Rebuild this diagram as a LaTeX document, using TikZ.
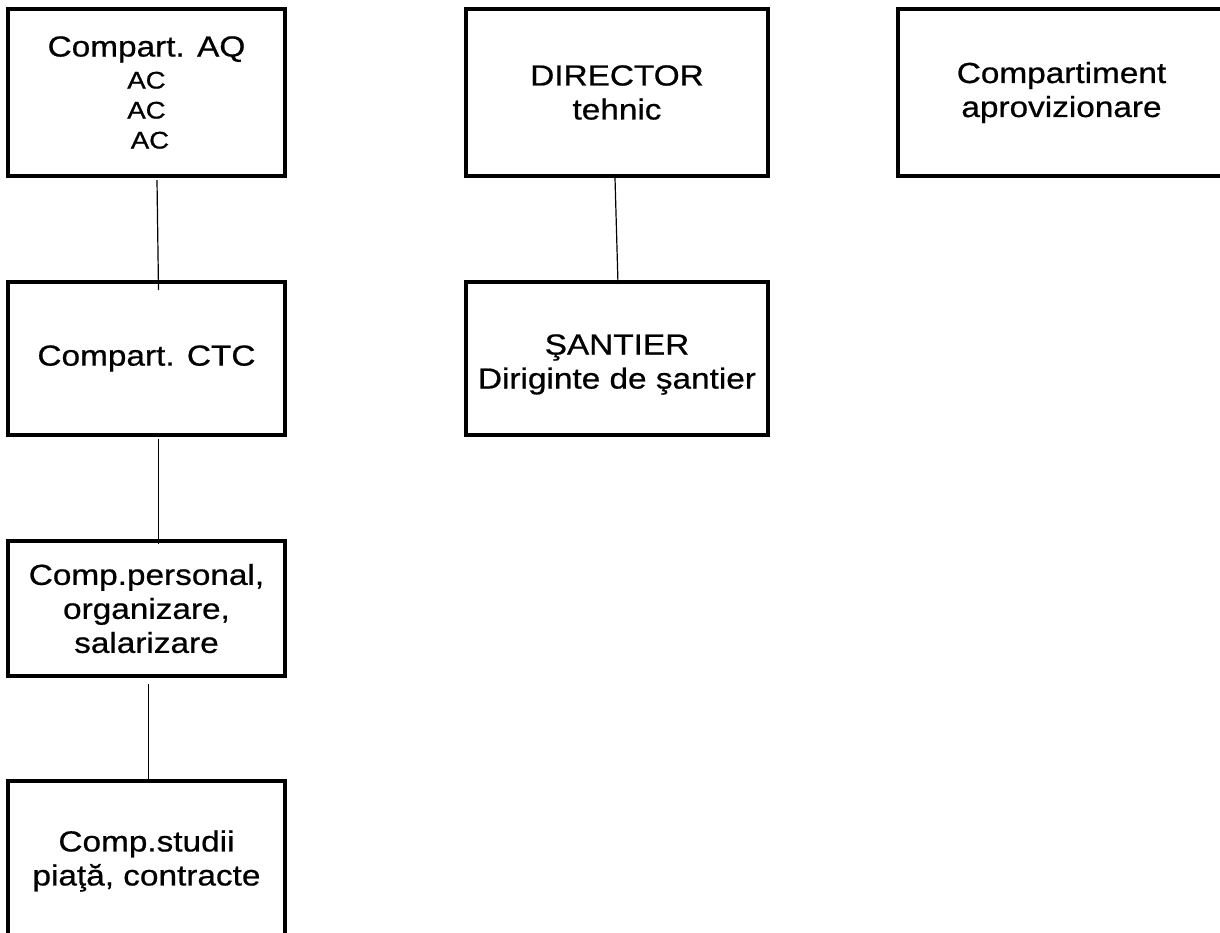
\documentclass[tikz,border=0pt]{standalone}
\usepackage{fontspec}
\setmainfont{Liberation Sans}[FakeStretch=1.15,FakeBold=0.7]
\usetikzlibrary{positioning}

\newcommand{\unitfont}{\fontsize{29}{34}\selectfont}
\newcommand{\acfont}{\fontsize{24}{30}\selectfont}

\begin{document}
\begin{tikzpicture}[x=1pt,y=-1pt,node distance=106pt,
                    unit/.style={draw,rectangle,line width=3.5pt,outer sep=0pt,
                                 minimum width=277pt,align=center,font=\unitfont},
                    link/.style={line width=1.2pt}]
  \useasboundingbox (0,0) rectangle (1220,933);

  \node[unit,minimum height=167pt] (aq) at (146.5,92.5)
       {Compart. AQ\\[-2pt]\acfont AC\\[-4pt]\acfont AC\\[-4pt]\acfont\hspace*{7pt}AC};
  \node[unit,minimum height=153pt] (ctc) [below=of aq] {Compart. CTC};
  \node[unit,minimum height=135pt] (personal) [below=of ctc]
       {Comp.personal,\\organizare,\\salarizare};
  \node[unit,minimum height=160pt] (studii) [below=105pt of personal]
       {Comp.studii\\piaţă, contracte};

  \node[unit,minimum height=167pt,minimum width=302pt] (director) [right=181pt of aq]
       {DIRECTOR\\tehnic};
  \node[unit,minimum height=153pt,minimum width=302pt] (santier) [below=of director] {};
  \node[align=center,font=\unitfont] (santiertext) at ([yshift=-6pt]santier.center)
       {ŞANTIER\\Diriginte de şantier};
  \node[unit,minimum height=167pt,minimum width=327pt] (aprov) [right=130pt of director]
       {Compartiment\\aprovizionare};

  \path ([xshift=10.5pt,yshift=-4pt]aq.south)     edge[link] ([xshift=12pt,yshift=-8pt]ctc.north)
        ([xshift=12pt,yshift=-4pt]ctc.south)      edge[link] ([xshift=12pt,yshift=-3pt]personal.north)
        ([xshift=2pt,yshift=-8pt]personal.south)  edge[link] ([xshift=2pt]studii.north)
        ([xshift=-2pt,yshift=-2pt]director.south) edge[link] ([xshift=1pt,yshift=-2pt]santier.north);
\end{tikzpicture}
\end{document}
